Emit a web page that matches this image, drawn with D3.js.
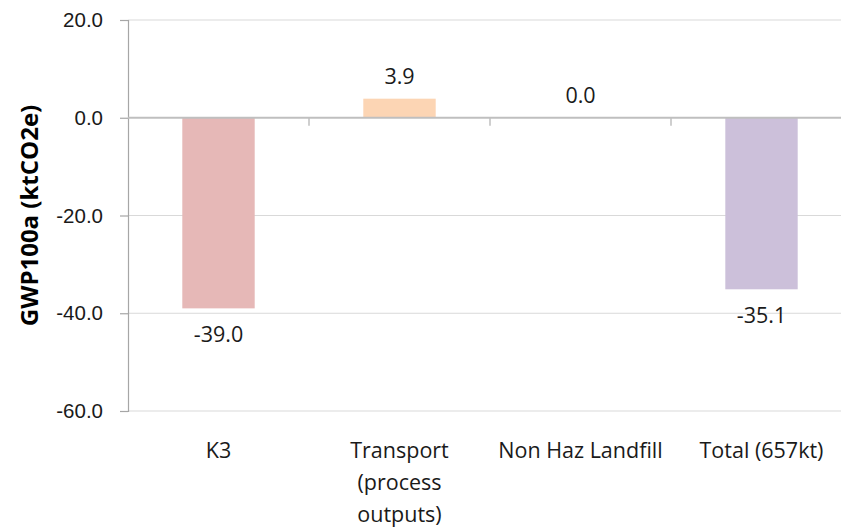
<!DOCTYPE html>
<html>
<head>
<meta charset="utf-8">
<script src="https://cdn.jsdelivr.net/npm/d3@7"></script>
<style>
  html, body { margin: 0; padding: 0; background: #fff; }
  svg { display: block; font-family: "Open Sans", "Noto Sans", sans-serif; }
</style>
</head>
<body>
<svg id="chart" width="841" height="530"></svg>
<script>
// Categories (multi-line labels split on "\n") and GWP100a values in ktCO2e
const categories = ["K3", "Transport\n(process\noutputs)", "Non Haz Landfill", "Total (657kt)"];
const values = [-39.0, 3.9, 0.0, -35.1];
const barColors = ["#e6b8b7", "#fcd5b4", "#d9d9d9", "#ccc0da"];
const yTicks = [20, 0, -20, -40, -60];
const yTitle = "GWP100a (ktCO2e)";

const svg = d3.select("#chart");
const plotLeft = 128, plotTop = 20, plotBottom = 411, plotW = 724;

// one decimal, plain hyphen for negatives
const fmt = d => d3.format(".1f")(d).replace("\u2212", "-");

const x = d3.scaleBand()
  .domain(d3.range(categories.length))
  .range([plotLeft, plotLeft + plotW])
  .paddingInner(0.6)
  .paddingOuter(0.3);

const y = d3.scaleLinear().domain([-60, 20]).range([plotBottom, plotTop]);

// horizontal gridlines
svg.append("g")
  .selectAll("line")
  .data(yTicks.filter(d => d !== 0))
  .join("line")
  .attr("x1", plotLeft).attr("x2", plotLeft + plotW)
  .attr("y1", d => y(d)).attr("y2", d => y(d))
  .attr("stroke", "#d9d9d9").attr("stroke-width", 1);

// value axis
const yAxis = d3.axisLeft(y).tickValues(yTicks).tickFormat(fmt).tickSize(8).tickPadding(17);
const gy = svg.append("g").attr("transform", `translate(${plotLeft},0)`).call(yAxis);
gy.select(".domain").attr("stroke", "#a6a6a6").attr("stroke-width", 1.2);
gy.selectAll(".tick line").attr("stroke", "#a6a6a6").attr("stroke-width", 1.2);
gy.selectAll(".tick text").attr("fill", "#1a1a1a").style("font-size", "20.5px");

// bars
svg.append("g")
  .selectAll("rect")
  .data(values)
  .join("rect")
  .attr("x", (d, i) => x(i))
  .attr("width", x.bandwidth())
  .attr("y", d => y(Math.max(0, d)))
  .attr("height", d => Math.abs(y(d) - y(0)))
  .attr("fill", (d, i) => barColors[i]);

// zero baseline with category separators
svg.append("line")
  .attr("x1", plotLeft).attr("x2", plotLeft + plotW)
  .attr("y1", y(0)).attr("y2", y(0))
  .attr("stroke", "#bfbfbf").attr("stroke-width", 2);
svg.append("g")
  .selectAll("line")
  .data(d3.range(1, categories.length))
  .join("line")
  .attr("x1", i => plotLeft + i * plotW / categories.length)
  .attr("x2", i => plotLeft + i * plotW / categories.length)
  .attr("y1", y(0)).attr("y2", y(0) + 8)
  .attr("stroke", "#bfbfbf").attr("stroke-width", 1.5);

// data labels
svg.append("g")
  .selectAll("text")
  .data(values)
  .join("text")
  .attr("x", (d, i) => x(i) + x.bandwidth() / 2)
  .attr("y", d => d >= 0 ? y(d) - 15 : y(d) + 34)
  .attr("text-anchor", "middle")
  .attr("fill", "#1a1a1a")
  .style("font-size", "21.5px")
  .text(fmt);

// category labels
const catG = svg.append("g");
categories.forEach((c, i) => {
  const cx = x(i) + x.bandwidth() / 2;
  const t = catG.append("text")
    .attr("x", cx)
    .attr("y", 458)
    .attr("text-anchor", "middle")
    .attr("fill", "#1a1a1a")
    .style("font-size", "21.5px");
  c.split("\n").forEach((line, j) => {
    t.append("tspan").attr("x", cx).attr("dy", j === 0 ? 0 : 32).text(line);
  });
});

// axis title
svg.append("text")
  .attr("transform", `translate(38,${(plotTop + plotBottom) / 2}) rotate(-90)`)
  .attr("text-anchor", "middle")
  .attr("fill", "#000")
  .style("font-size", "24px")
  .style("font-weight", "bold")
  .text(yTitle);
</script>
</body>
</html>
